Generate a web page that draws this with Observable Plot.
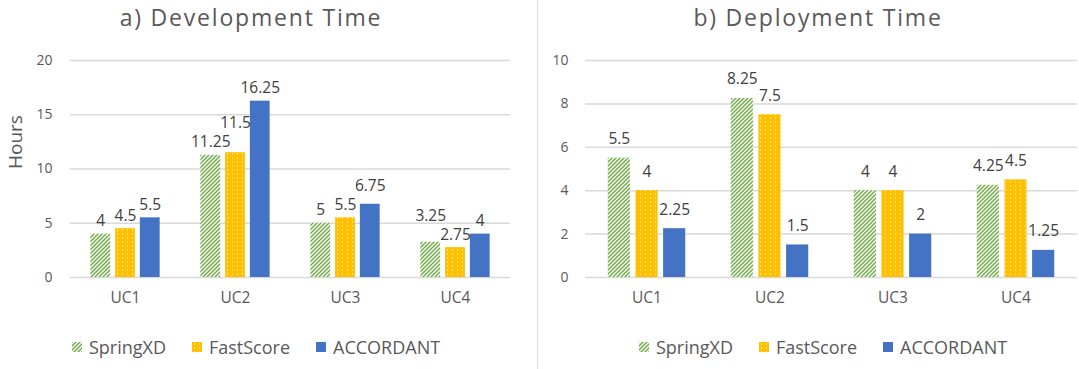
<!DOCTYPE html>
<html>
<head>
<meta charset="utf-8">
<script src="https://cdn.jsdelivr.net/npm/d3@7"></script>
<script src="https://cdn.jsdelivr.net/npm/@observablehq/plot@0.6"></script>
<style>
  html, body { margin: 0; padding: 0; background: #fff; }
  body { width: 1079px; height: 369px; position: relative; overflow: hidden; font-family: "Open Sans", Lato, sans-serif; }
  .title { position: absolute; text-align: center; font-size: 23px; letter-spacing: 1.8px; line-height: 28px; color: #595959; white-space: nowrap; }
  .panel { position: absolute; top: 40px; }
  .legend { position: absolute; top: 335px; display: flex; justify-content: center; align-items: center; font-size: 18px; line-height: 24px; color: #595959; white-space: nowrap; }
  .legend .item { display: flex; align-items: center; margin: 0 13px; }
  .legend svg { margin-right: 7px; }
  #divider { position: absolute; left: 537px; top: 0; width: 1px; height: 369px; background: #d9d9d9; }
</style>
</head>
<body>
<svg style="position:absolute;width:0;height:0" aria-hidden="true">
  <defs>
    <pattern id="hatch" patternUnits="userSpaceOnUse" width="4" height="4">
      <rect width="4" height="4" fill="#ffffff"></rect>
      <path d="M-1,1 l2,-2 M0,4 l4,-4 M3,5 l2,-2" stroke="#70AD47" stroke-width="1.5"></path>
    </pattern>
    <pattern id="dots" patternUnits="userSpaceOnUse" width="5" height="4">
      <rect width="5" height="4" fill="#FFC000"></rect>
      <rect x="2" y="1.5" width="1" height="1" fill="#ffffff"></rect>
    </pattern>
  </defs>
</svg>
<div id="divider"></div>
<div class="title" style="left:1px;width:500px;top:3px;">a) Development Time</div>
<div class="title" style="left:558px;width:520px;top:3px;">b) Deployment Time</div>
<div class="panel" id="left" style="left:0px;"></div>
<div class="panel" id="right" style="left:538px;"></div>
<div class="legend" id="legendLeft" style="left:56px;width:400px;"></div>
<div class="legend" id="legendRight" style="left:623px;width:400px;"></div>
<script>
// ---- data ----
const categories = ["UC1", "UC2", "UC3", "UC4"];
const seriesNames = ["SpringXD", "FastScore", "ACCORDANT"];
const devSpringXD = [4, 11.25, 5, 3.25];
const devFastScore = [4.5, 11.5, 5.5, 2.75];
const devAccordant = [5.5, 16.25, 6.75, 4];
const depSpringXD = [5.5, 8.25, 4, 4.25];
const depFastScore = [4, 7.5, 4, 4.5];
const depAccordant = [2.25, 1.5, 2, 1.25];
const devTicks = [0, 5, 10, 15, 20];
const depTicks = [0, 2, 4, 6, 8, 10];

// ---- styles ----
const FONT = "'Open Sans', Lato, sans-serif";
const fills = ["url(#hatch)", "url(#dots)", "#4472C4"];
const labelSize = 15.5;
const ctx = document.createElement("canvas").getContext("2d");
ctx.font = `${labelSize}px "Open Sans"`;
const textW = (s) => ctx.measureText(s).width;

function makeChart({seriesValues, ticks, width, height, marginLeft, marginRight, marginTop, marginBottom, tickPadding, labelOff, hours}) {
  const innerW = width - marginLeft - marginRight;
  const innerH = height - marginTop - marginBottom;
  const band = innerW / categories.length;
  const bw = band * 0.18, gap = band * 0.045;
  const start = (band - (3 * bw + 2 * gap)) / 2;
  const yMax = ticks[ticks.length - 1];
  const pxPerUnit = innerH / yMax;
  const lineH = 19;

  const rows = [];
  seriesValues.forEach((vals, k) => {
    vals.forEach((v, i) => rows.push({cat: categories[i], series: seriesNames[k], k, value: v}));
  });

  // label placement: shorter bars keep their label; a taller bar's label that
  // collides with an already placed one is lifted above it
  categories.forEach((c) => {
    const placed = [];
    rows.filter((d) => d.cat === c)
      .sort((a, b) => a.value - b.value || a.k - b.k)
      .forEach((d) => {
        const x = (d.k - 1) * (bw + gap);
        const w = textW(String(d.value));
        let py = innerH - d.value * pxPerUnit - labelOff;
        for (const p of placed) {
          if (Math.abs(x - p.x) < (w + p.w) / 2 + 1 && Math.abs(py - p.py) < lineH) {
            py = p.py - lineH;
          }
        }
        placed.push({x, w, py});
        d.ly = (innerH - (py + labelOff)) / pxPerUnit;
      });
  });

  const marks = [
    Plot.gridY(ticks, {stroke: "#d9d9d9", strokeOpacity: 1, strokeWidth: 1.5}),
    Plot.axisY(ticks, {tickSize: 0, tickPadding, fontSize: 14, fill: "#595959", label: null}),
    Plot.axisX({tickSize: 0, tickPadding: 14, fontSize: 15.5, fill: "#595959", label: null})
  ];
  seriesNames.forEach((s, k) => {
    const data = rows.filter((d) => d.k === k);
    const left = start + k * (bw + gap);
    marks.push(Plot.barY(data, {x: "cat", y: "value", fill: fills[k], insetLeft: left, insetRight: band - left - bw}));
  });
  seriesNames.forEach((s, k) => {
    const data = rows.filter((d) => d.k === k);
    marks.push(Plot.text(data, {x: "cat", y: "ly", text: (d) => String(d.value), dx: (k - 1) * (bw + gap), dy: -labelOff, fontSize: labelSize, fill: "#404040"}));
  });
  if (hours) {
    marks.push(Plot.text([hours], {frameAnchor: "left", dx: -55, rotate: -90, fontSize: 19, fill: "#595959"}));
  }
  return Plot.plot({
    width, height, marginLeft, marginRight, marginTop, marginBottom,
    style: {fontFamily: FONT, background: "transparent", overflow: "visible"},
    x: {domain: categories, padding: 0, axis: null},
    y: {domain: [0, yMax], axis: null},
    marks
  });
}

document.getElementById("left").appendChild(makeChart({
  seriesValues: [devSpringXD, devFastScore, devAccordant],
  ticks: devTicks, width: 537, height: 280,
  marginLeft: 70, marginRight: 27, marginTop: 20, marginBottom: 43,
  tickPadding: 18, labelOff: 13, hours: "Hours"
}));
document.getElementById("right").appendChild(makeChart({
  seriesValues: [depSpringXD, depFastScore, depAccordant],
  ticks: depTicks, width: 541, height: 280,
  marginLeft: 47, marginRight: 2, marginTop: 20, marginBottom: 43,
  tickPadding: 17, labelOff: 19
}));

function legend(el) {
  seriesNames.forEach((s, k) => {
    const item = document.createElement("div");
    item.className = "item";
    item.innerHTML = `<svg width="10" height="10"><rect width="10" height="10" fill="${fills[k]}"></rect></svg><span>${s}</span>`;
    el.appendChild(item);
  });
}
legend(document.getElementById("legendLeft"));
legend(document.getElementById("legendRight"));
</script>
</body>
</html>
